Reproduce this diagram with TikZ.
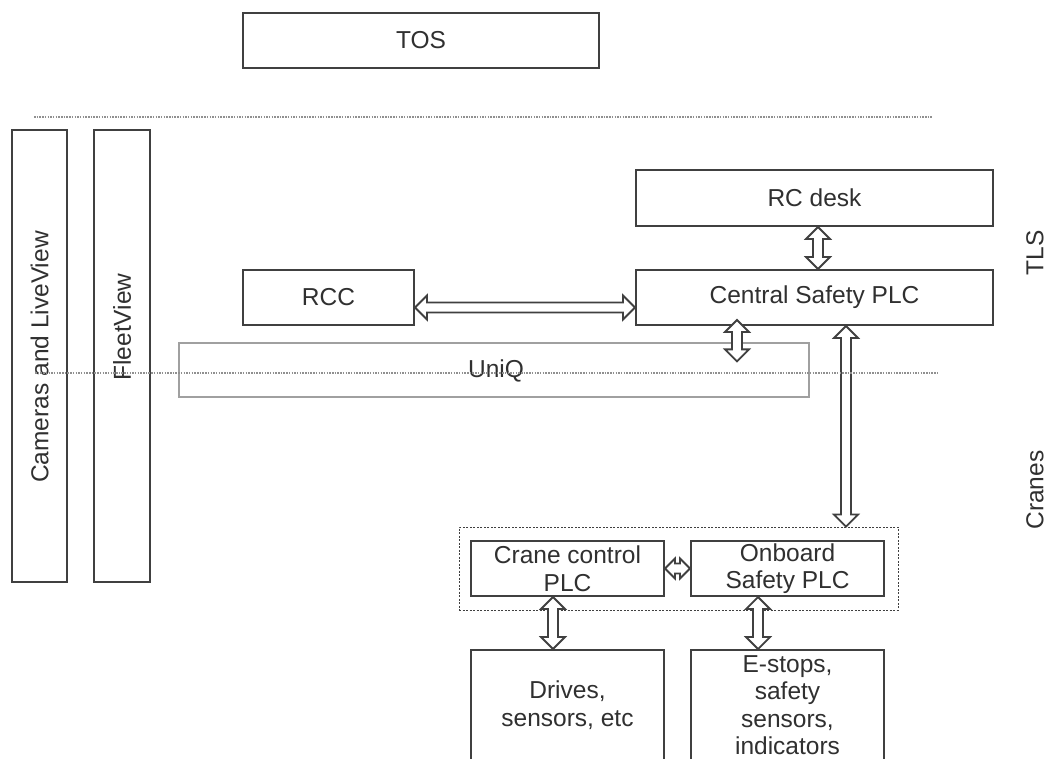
\documentclass[tikz,border=0pt]{standalone}
\usepackage{fontspec}
\setmainfont{Liberation Sans}
\usetikzlibrary{calc}
\definecolor{linec}{HTML}{404040}
\definecolor{txtc}{HTML}{303030}
\definecolor{lightc}{HTML}{A0A0A0}
\definecolor{dotc}{HTML}{909090}
\newcommand\arrHL{12pt}
\newcommand\arrHW{12pt}
\newcommand\arrSW{5pt}
\newcommand\dblarr[2]{%
  \draw[arrowline] (#1)
   -- ($(#1)!\arrHL!(#2)!\arrHW!90:(#2)$)
   -- ($(#1)!\arrHL!(#2)!\arrSW!90:(#2)$)
   -- ($(#2)!\arrHL!(#1)!\arrSW!-90:(#1)$)
   -- ($(#2)!\arrHL!(#1)!\arrHW!-90:(#1)$)
   -- (#2)
   -- ($(#2)!\arrHL!(#1)!\arrHW!90:(#1)$)
   -- ($(#2)!\arrHL!(#1)!\arrSW!90:(#1)$)
   -- ($(#1)!\arrHL!(#2)!\arrSW!-90:(#2)$)
   -- ($(#1)!\arrHL!(#2)!\arrHW!-90:(#2)$)
   -- cycle;}
\begin{document}
\begin{tikzpicture}[x=1pt,y=-1pt,
  every node/.style={text=txtc,font=\fontsize{24.5}{27.5}\selectfont},
  box/.style={draw=linec,line width=2pt,fill=white,inner sep=0pt,align=center},
  lightbox/.style={draw=lightc,line width=1.3pt,inner sep=0pt},
  dashbox/.style={draw=linec,line width=0.9pt,dash pattern=on 2pt off 1.5pt,inner sep=0pt},
  arrowline/.style={draw=linec,line width=1.8pt,fill=white,line join=miter},
  dotline/.style={draw=dotc,line width=1.6pt,dash pattern=on 1.5pt off 1.2pt},
  sidelabel/.style={rotate=90}]
\useasboundingbox[fill=white] (0,0) rectangle (1051,758);

% boxes
\node[box,minimum width=356pt,minimum height=55pt] (tos) at (421,40.5) {TOS};
\node[box,minimum width=55pt,minimum height=452pt] (cam) at (39.5,356) {};
\node[sidelabel] (camlabel) at (39.5,357) {Cameras and LiveView};
\node[box,minimum width=56pt,minimum height=452pt] (fleet) at (122,356) {};
\node[sidelabel] (fleetlabel) at (122,327) {FleetView};
\node[box,minimum width=357pt,minimum height=56pt] (rcdesk) at (814.5,198) {RC desk};
\node[box,minimum width=171pt,minimum height=55pt] (rcc) at (328.5,297.5) {RCC};
\node[box,minimum width=357pt,minimum height=55pt] (central) at (814.5,297.5) {Central Safety PLC};
\node[lightbox,minimum width=630pt,minimum height=54pt] (uniq) at (494,370) {};
\node (uniqlabel) at (496,371) {UniQ};
\node[dashbox,minimum width=439pt,minimum height=83pt] (crane) at (678.5,568.5) {};
\node[box,minimum width=193pt,minimum height=55pt] (ccplc) at (567.5,568.5) {Crane control\\PLC};
\node[box,minimum width=193pt,minimum height=55pt] (onboard) at (787.5,568.5) {Onboard\\Safety PLC};
\node[box,minimum width=193pt,minimum height=110pt] (drives) at (567.5,705) {Drives,\\sensors, etc};
\node[box,minimum width=193pt,minimum height=110pt] (estops) at (787.5,705) {E-stops,\\safety\\sensors,\\indicators};

\node[sidelabel] (tls) at (1035,253) {TLS};
\node[sidelabel] (cranes) at (1035,490) {Cranes};

% connector end points
\coordinate (a1) at ($(rcdesk.south)+(3.5,0)$);
\coordinate (b1) at ($(central.north)+(3.5,0)$);
\coordinate (a2) at ($(rcc.east)+(0,10)$);
\coordinate (b2) at ($(central.west)+(0,10)$);
\coordinate (a3) at ($(central.south)+(-77.5,-6)$);
\coordinate (b3) at ($(uniq.north)+(243,19)$);
\coordinate (a4) at ($(central.south)+(31.5,0)$);
\coordinate (b4) at ($(crane.north)+(167.5,0)$);
\coordinate (a5) at (ccplc.east);
\coordinate (b5) at (onboard.west);
\coordinate (a6) at ($(ccplc.south)+(-14.5,0)$);
\coordinate (b6) at ($(drives.north)+(-14.5,0)$);
\coordinate (a7) at ($(onboard.south)+(-29.5,0)$);
\coordinate (b7) at ($(estops.north)+(-29.5,0)$);

\dblarr{a1}{b1}
\dblarr{a2}{b2}
\dblarr{a3}{b3}
\dblarr{a4}{b4}
{\renewcommand\arrHL{10pt}\renewcommand\arrHW{10pt}\dblarr{a5}{b5}}
\dblarr{a6}{b6}
\dblarr{a7}{b7}

% dotted separators
\coordinate (d1a) at (34,117);
\coordinate (d1b) at (933,117);
\coordinate (d2a) at (35,373);
\coordinate (d2b) at (937,373);
\draw[dotline] (d1a) -- (d1b);
\draw[dotline] (d2a) -- (d2b);
\end{tikzpicture}
\end{document}
